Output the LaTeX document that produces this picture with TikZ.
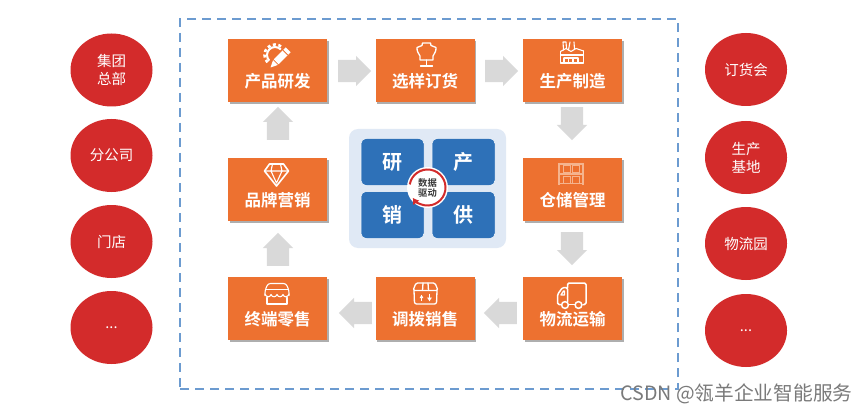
\documentclass[tikz,border=0pt]{standalone}
\usepackage{fontspec}
\setmainfont{Noto Sans CJK SC}
\newfontfamily\cjkbold{Noto Sans CJK SC Bold}
\usetikzlibrary{shapes.arrows,shapes.geometric,shadows,arrows.meta}
\definecolor{orangebox}{HTML}{ED7130}
\definecolor{redoval}{HTML}{D32B2B}
\definecolor{bluebox}{HTML}{2E71B8}
\definecolor{palebg}{HTML}{E0E9F5}
\definecolor{dashblue}{HTML}{6C9BD0}
\definecolor{arrowgray}{HTML}{D9D9D9}
\definecolor{paleicon}{HTML}{F5B48E}
\tikzset{
  x=1pt,y=-1pt,
  stepbox/.style={fill=orangebox,minimum width=99pt,minimum height=63pt,inner sep=0pt,
    copy shadow={shadow xshift=1.8pt,shadow yshift=-1.8pt,fill=black!45,draw=none,opacity=.7}},
  boxlabel/.style={text=white,font=\cjkbold\fontsize{16.5}{16.5}\selectfont,inner sep=0pt},
  quad/.style={fill=bluebox,draw=white,line width=.5pt,rounded corners=5pt,minimum width=63pt,minimum height=47pt,
    inner sep=0pt,text=white,font=\cjkbold\fontsize{20}{20}\selectfont},
  blockarrow/.style={single arrow,fill=arrowgray,minimum width=30pt,minimum height=33pt,
    single arrow head extend=4pt,inner xsep=0pt,inner ysep=11pt,single arrow tip angle=90,anchor=tail},
  ic/.style={draw=white,line width=1.3pt,line join=round,line cap=round},
  pale/.style={draw=paleicon,line width=1.1pt},
}
\newcommand{\redoval}[4]{\node[fill=redoval,ellipse,inner sep=0pt,minimum width=82pt,minimum height=73pt,text=white,align=center,
    font=\fontsize{14.5}{18}\selectfont] (#1) at (#2,#3) {#4};}
\begin{document}
\begin{tikzpicture}
\useasboundingbox (0,0) rectangle (866,414);
\fill[white] (0,0) rectangle (866,414);
% dashed frame
\node[draw=dashblue,line width=2pt,dash pattern=on 9pt off 6pt,minimum width=498pt,minimum height=370pt,inner sep=0pt] (frame) at (429,204) {};
% ovals
\redoval{l1}{111.5}{70}{集团\\总部}
\redoval{l2}{111.5}{155.5}{分公司}
\redoval{l3}{111.5}{241.5}{门店}
\redoval{l4}{111.5}{327.5}{\raisebox{-3pt}{...}}
\redoval{r1}{746}{69.5}{订货会}
\redoval{r2}{746}{157.5}{生产\\基地}
\redoval{r3}{746}{243.5}{物流园}
\redoval{r4}{746}{330.5}{\raisebox{-3pt}{...}}
% step boxes
\node[stepbox] (b1) at (277.5,70.5) {};
\node[stepbox] (b2) at (425,70.5) {};
\node[stepbox] (b3) at (572.5,70.5) {};
\node[stepbox] (b4) at (572.5,189.5) {};
\node[stepbox] (b5) at (572.5,308.5) {};
\node[stepbox] (b6) at (425,308.5) {};
\node[stepbox] (b7) at (277.5,308.5) {};
\node[stepbox] (b8) at (277.5,189.5) {};
\node[boxlabel] (t1) at (277.5,81) {产品研发};
\node[boxlabel] (t2) at (425,81) {选样订货};
\node[boxlabel] (t3) at (572.5,81) {生产制造};
\node[boxlabel] (t4) at (572.5,200) {仓储管理};
\node[boxlabel] (t5) at (572.5,319) {物流运输};
\node[boxlabel] (t6) at (425,319) {调拨销售};
\node[boxlabel] (t7) at (277.5,319) {终端零售};
\node[boxlabel] (t8) at (277.5,200) {品牌营销};
% block arrows
\node[blockarrow] (a1) at (338,71) {};
\node[blockarrow] (a2) at (485,71) {};
\node[blockarrow,rotate=-90] (a3) at (572,107) {};
\node[blockarrow,rotate=-90] (a4) at (572,232) {};
\node[blockarrow,rotate=180] (a5) at (517,313) {};
\node[blockarrow,rotate=180] (a6) at (372,313) {};
\node[blockarrow,rotate=90] (a7) at (278,266) {};
\node[blockarrow,rotate=90] (a8) at (278,140) {};
% centre panel
\node[fill=palebg,rounded corners=9pt,minimum width=157pt,minimum height=119pt,inner sep=0pt] (panel) at (427.5,188.5) {};
\node[quad] (q1) at (392.5,162) {研};
\node[quad] (q2) at (463.5,162) {产};
\node[quad] (q3) at (392.5,215) {销};
\node[quad] (q4) at (463.5,215) {供};
\node[circle,fill=white,minimum size=41pt,inner sep=0pt] (hub) at (427.5,187.5) {};
\draw[redoval,line width=2pt,-{Latex[length=6pt,width=8pt]}] (hub.center) ++(-170:18) arc[start angle=-170,end angle=145,radius=18];
\node[align=center,text=black!78,font=\cjkbold\fontsize{9.3}{10.6}\selectfont,inner sep=0pt] (hubt) at (427.5,188) {数据\\驱动};
% icon: gear + pencil
\begin{scope}[shift={(275,55)}]
  \draw[white,line width=2.6pt,dash pattern=on 3pt off 2.6pt] (-225:10.5) arc[start angle=-225,end angle=-15,radius=10.5];
  \draw[white,line width=2pt] (-225:8) arc[start angle=-225,end angle=-15,radius=8];
  \begin{scope}[shift={(4,4)},rotate=-45]
    \fill[orangebox] (-5.2,-17) rectangle (5.2,14);
    \fill[white] (-3.4,-13) rectangle (3.4,4);
    \fill[white] (-3.4,5) -- (3.4,5) -- (0,12) -- cycle;
    \fill[orangebox] (-3.4,-9.5) rectangle (3.4,-8.6);
  \end{scope}
\end{scope}
% icon: dress form
\begin{scope}[shift={(426.5,55)}]
  \draw[ic] (-4,-12) -- (4,-12) -- (4.5,-9.5) -- (9.5,-7.5) .. controls (10,-3) and (7,-1) .. (6.5,1) .. controls (6.2,2.5) and (6.3,3.5) .. (6.5,5) -- (-6.5,5) .. controls (-6.3,3.5) and (-6.2,2.5) .. (-6.5,1) .. controls (-7,-1) and (-10,-3) .. (-9.5,-7.5) -- (-4.5,-9.5) -- cycle;
  \draw[ic] (0,5) -- (0,10.5) (-6,11) -- (6,11);
\end{scope}
% icon: factory
\begin{scope}[shift={(572,52.5)}]
  \draw[ic,line width=1.1pt] (-11.5,-1) -- (-11.5,10.5) -- (11.5,10.5) -- (11.5,-1.5);
  \draw[ic,line width=1.1pt] (-11.5,-1) -- (-6,-4) -- (-1,-1) -- (4,-4) -- (11.5,-1.5);
  \draw[ic,line width=1.1pt] (-11.5,2.5) -- (11.5,2.5);
  \draw[ic,line width=1.1pt] (-8.5,-2.5) -- (-9,-10.5) -- (-6,-10.5) -- (-5.5,-4) (-3.5,-2.5) -- (-2,-10.5) (2,-10.5) -- (2.5,-3);
  \draw[ic,line width=1.1pt] (-8,5.5) -- (6,5.5) (-8,5.5) -- (-8,10.5) (-3.5,5.5) -- (-3.5,10.5) (1,5.5) -- (1,10.5) (6,5.5) -- (6,10.5);
\end{scope}
% icon: shelf (pale)
\begin{scope}[shift={(571,174)}]
  \draw[pale] (-12,-11) -- (-12,11) (12,-11) -- (12,11) (-12,-10) -- (12,-10) (-12,9.5) -- (12,9.5);
  \draw[pale,line width=.8pt] (-8,-9) rectangle (-1,-2) (1,-9) rectangle (8,-2) (-8,2) rectangle (-1,9) (1,2) rectangle (8,9);
  \fill[paleicon] (-12,-1.2) rectangle (12,1.2);
\end{scope}
% icon: truck
\begin{scope}[shift={(571.5,295.5)}]
  \draw[ic,line width=1.5pt,rounded corners=1.5pt] (-4,-8) -- (-4,-12.5) -- (14.5,-12.5) -- (14.5,9) -- (11.5,9);
  \draw[ic,line width=1.5pt] (3,9) -- (-2.5,9);
  \draw[ic,line width=1.5pt,rounded corners=1.5pt] (-10.5,9) -- (-14,9) -- (-14,-1) -- (-9,-8) -- (-4,-8) -- (-4,6);
  \draw[ic,line width=1.5pt] (-6.5,9.5) circle[radius=3.4] (7,9.5) circle[radius=3.4];
  \draw[ic] (-10.5,-0.5) -- (-8,-4.5) -- (-7,-4.5) -- (-7,-0.5) -- cycle;
\end{scope}
% icon: parcel box
\begin{scope}[shift={(425.5,293.5)}]
  \draw[ic,rounded corners=2pt] (-11.5,-3) -- (-11,10.5) -- (11,10.5) -- (11.5,-3);
  \draw[ic,rounded corners=1.5pt] (-12.5,-3) -- (-9.5,-10.5) -- (9.5,-10.5) -- (12.5,-3) -- cycle;
  \draw[ic] (-3,-3) -- (-2.5,-10.5) (3,-3) -- (2.5,-10.5);
  \draw[white,line width=1pt,-{Latex[length=3.5pt,width=4pt]}] (-4,7) -- (-4,1);
  \draw[white,line width=1.2pt,-{Latex[length=4pt,width=5.5pt]}] (4,0) -- (4,8);
\end{scope}
% icon: shop
\begin{scope}[shift={(277,293.5)}]
  \draw[ic,line width=1.1pt,rounded corners=2.5pt] (-12,2) -- (-12,-3) -- (-9,-10) -- (9,-10) -- (12,-3) -- (12,2);
  \draw[ic,line width=1.1pt] (-11,-4) -- (11,-4);
  \draw[ic,line width=1.1pt] (-12,1) .. controls (-10,4) and (-7,4) .. (-6,1) .. controls (-5,4) and (-1,4) .. (0,1) .. controls (1,4) and (5,4) .. (6,1) .. controls (7,4) and (10,4) .. (12,1);
  \draw[ic,line width=1.1pt] (-10,4) -- (-10,10.5) -- (10,10.5) -- (10,4);
\end{scope}
% icon: diamond
\begin{scope}[shift={(276.5,175)}]
  \draw[ic,line width=1.6pt] (-7,-11) -- (7,-11) -- (12,-4) -- (0,11) -- (-12,-4) -- cycle;
  \draw[ic,line width=1.1pt] (-12,-4) -- (12,-4) (-4,-11) -- (-5.5,-4) -- (0,8) -- (5.5,-4) -- (4,-11);
\end{scope}
% watermark
\node[anchor=west,inner sep=0pt,text=black!52,font=\fontsize{19.7}{21}\selectfont] (wm) at (620,394) {CSDN @瓴羊企业智能服务};
\end{tikzpicture}
\end{document}
